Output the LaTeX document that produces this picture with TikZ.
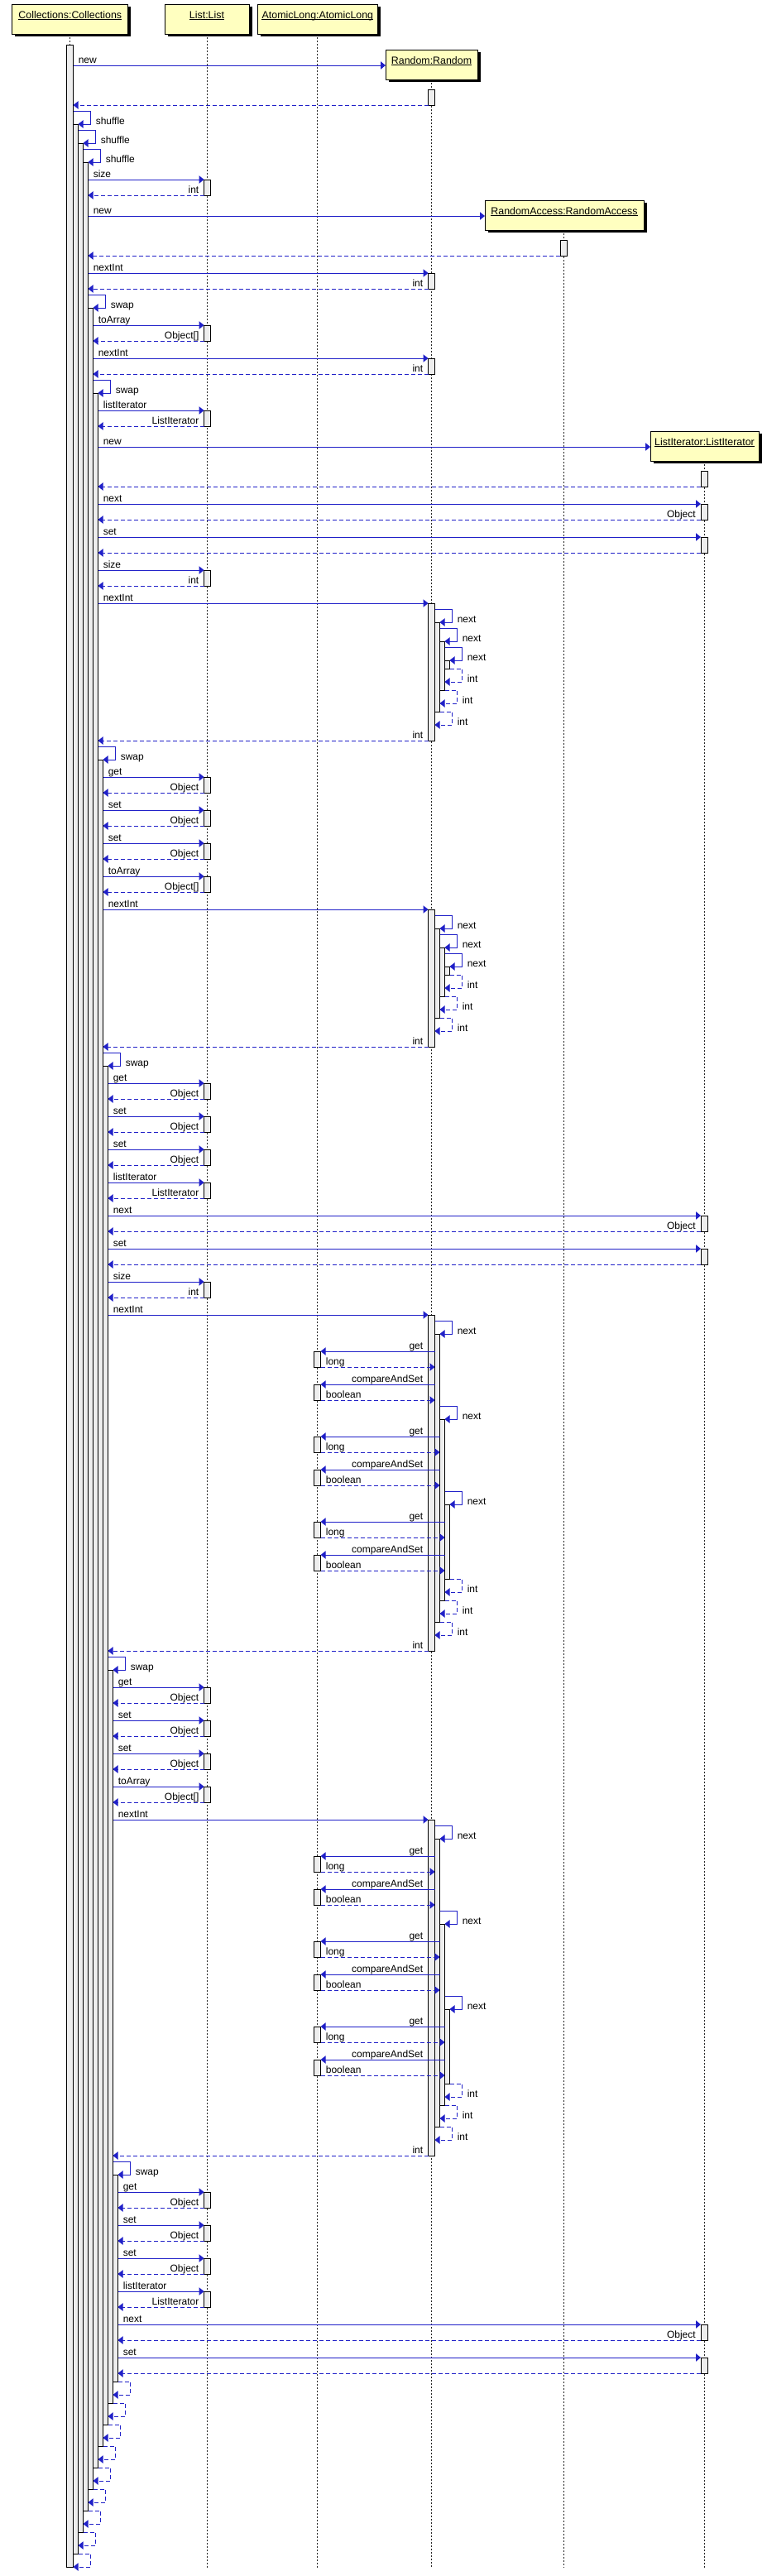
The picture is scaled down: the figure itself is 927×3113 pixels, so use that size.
\documentclass[tikz,border=0pt]{standalone}
\usepackage{fontspec}
\setmainfont{Liberation Sans}
\usetikzlibrary{arrows.meta}
\definecolor{msgblue}{RGB}{32,32,200}
\definecolor{barfill}{RGB}{238,238,238}
\definecolor{hdrfill}{RGB}{255,255,192}
\tikzset{
  msg/.style={draw=msgblue,line width=0.75pt,-{Triangle[length=4.5pt,width=7pt]}},
  ret/.style={msg,dash pattern=on 3.75pt off 2.25pt},
  lbl/.style={font=\fontsize{9pt}{10pt}\selectfont,inner sep=0pt,text=black},
  hlbl/.style={font=\fontsize{9.3pt}{10pt}\selectfont,inner sep=0pt,text=black},
  actbox/.style={draw=black,fill=barfill,line width=0.75pt},
  lifeline/.style={draw=black!85,line width=0.6pt,dash pattern=on 1.5pt off 1.5pt},
  hdrbox/.style={draw=black,fill=hdrfill,line width=0.75pt}
}
\newcommand\hdr[5]{%
  \fill[black] (#2+3.5,#4+3) rectangle (#3+3.5,#4+39);
  \draw[hdrbox] (#2,#4) rectangle (#3,#4+36);
  \node[hlbl,anchor=base] (#1) at ({(#2+#3)/2},#4+17) {#5};
  \draw[line width=0.75pt] ([yshift=-1.2pt]#1.base west) -- ([yshift=-1.2pt]#1.base east);
}
\newcommand\actbar[4]{\draw[actbox] (#1,#3) rectangle (#2,#4);}
\newcommand\sync[6]{%
  \actbar{#3}{#4}{#1}{#1+19}
  \draw[msg] (#2,#1) -- (#3,#1);
  \node[lbl,anchor=base west] at (#2+6,#1-3) {#5};
  \draw[ret] (#3,#1+19) -- (#2,#1+19);
  \node[lbl,anchor=base east] at (#3-6,#1+16) {#6};
}
\newcommand\selfcall[4]{%
  \draw[msg] (#2,#1) -- (#3+15,#1) -- (#3+15,#1+16) -- (#3,#1+16);
  \node[lbl,anchor=base west] at (#3+21,#1+16) {#4};
}
\newcommand\selfret[4]{%
  \draw[ret] (#2,#1) -- (#2+15,#1) -- (#2+15,#1+16) -- (#3,#1+16);
  \node[lbl,anchor=base west] at (#2+21,#1+16) {#4};
}
\newcommand\acall[4]{%
  \actbar{379.6}{387.6}{#1}{#1+19}
  \draw[msg] (#2,#1) -- (387.6,#1);
  \node[lbl,anchor=base east] at (511.5,#1-3) {#3};
  \draw[ret] (387.6,#1+19) -- (#2,#1+19);
  \node[lbl,anchor=base west] at (393.6,#1+16) {#4};
}
\newcommand\lst[4]{\sync{#1}{#2}{246.6}{254.6}{#3}{#4}}
\newcommand\lit[4]{\sync{#1}{#2}{847}{855}{#3}{#4}}
\newcommand\rnd[2]{\sync{#1}{#2}{517.5}{525.5}{nextInt}{int}}
\newcommand\blockA[2]{%
  \actbar{517.5}{525.5}{#1}{#1+166}
  \actbar{525.5}{531.5}{#1+23}{#1+131}
  \actbar{531.5}{537.5}{#1+46}{#1+105}
  \actbar{537.5}{543.5}{#1+69}{#1+79}
  \draw[msg] (#2,#1) -- (517.5,#1);
  \node[lbl,anchor=base west] at (#2+6,#1-3) {nextInt};
  \selfcall{#1+7}{525.5}{531.5}{next}
  \selfcall{#1+30}{531.5}{537.5}{next}
  \selfcall{#1+53}{537.5}{543.5}{next}
  \selfret{#1+79}{543.5}{537.5}{int}
  \selfret{#1+105}{537.5}{531.5}{int}
  \selfret{#1+131}{531.5}{525.5}{int}
  \draw[ret] (517.5,#1+166) -- (#2,#1+166);
  \node[lbl,anchor=base east] at (511.5,#1+163) {int};
}
\newcommand\blockB[2]{%
  \actbar{517.5}{525.5}{#1}{#1+406}
  \actbar{525.5}{531.5}{#1+23}{#1+371}
  \actbar{531.5}{537.5}{#1+126}{#1+345}
  \actbar{537.5}{543.5}{#1+229}{#1+319}
  \draw[msg] (#2,#1) -- (517.5,#1);
  \node[lbl,anchor=base west] at (#2+6,#1-3) {nextInt};
  \selfcall{#1+7}{525.5}{531.5}{next}
  \acall{#1+44}{525.5}{get}{long}
  \acall{#1+84}{525.5}{compareAndSet}{boolean}
  \selfcall{#1+110}{531.5}{537.5}{next}
  \acall{#1+147}{531.5}{get}{long}
  \acall{#1+187}{531.5}{compareAndSet}{boolean}
  \selfcall{#1+213}{537.5}{543.5}{next}
  \acall{#1+250}{537.5}{get}{long}
  \acall{#1+290}{537.5}{compareAndSet}{boolean}
  \selfret{#1+319}{543.5}{537.5}{int}
  \selfret{#1+345}{537.5}{531.5}{int}
  \selfret{#1+371}{531.5}{525.5}{int}
  \draw[ret] (517.5,#1+406) -- (#2,#1+406);
  \node[lbl,anchor=base east] at (511.5,#1+403) {int};
}
\begin{document}
\begin{tikzpicture}[x=0.75pt,y=-0.75pt]
\fill[white] (0,0) rectangle (927,3113);
\useasboundingbox (0,0) rectangle (927,3113);
% lifelines
\draw[lifeline] (84.5,41) -- (84.5,3103);
\draw[lifeline] (250.6,41) -- (250.6,3103);
\draw[lifeline] (383.6,41) -- (383.6,3103);
\draw[lifeline] (521.5,96) -- (521.5,3103);
\draw[lifeline] (681.4,278) -- (681.4,3103);
\draw[lifeline] (851,557) -- (851,3103);
% headers
\hdr{hc}{14.8}{154.8}{5}{Collections:Collections}
\hdr{hl}{199}{301}{5}{List:List}
\hdr{ha}{311.5}{456.3}{5}{AtomicLong:AtomicLong}
\hdr{hr}{466}{577}{60}{Random:Random}
\hdr{hra}{586}{778}{242}{RandomAccess:RandomAccess}
\hdr{hli}{786}{917}{521}{ListIterator:ListIterator}
% Collections activation bars
\actbar{80.5}{88.5}{54}{3102}
\actbar{88.5}{94.5}{150}{3086}
\actbar{94.5}{100.5}{173}{3060}
\actbar{100.5}{106.5}{196}{3034}
\actbar{106.5}{112.5}{372}{3008}
\actbar{112.5}{118.5}{475}{2982}
\actbar{118.5}{124.5}{918}{2956}
\actbar{124.5}{130.5}{1288}{2930}
\actbar{130.5}{136.5}{2018}{2904}
\actbar{136.5}{142.5}{2628}{2878}
% new Random
\draw[msg] (88.5,79) -- (466,79);
\node[lbl,anchor=base west] at (94.5,76) {new};
\actbar{517.5}{525.5}{108}{127}
\draw[ret] (517.5,127) -- (88.5,127);
\selfcall{134}{88.5}{94.5}{shuffle}
\selfcall{157}{94.5}{100.5}{shuffle}
\selfcall{180}{100.5}{106.5}{shuffle}
\lst{217}{106.5}{size}{int}
% new RandomAccess
\draw[msg] (106.5,261) -- (586,261);
\node[lbl,anchor=base west] at (112.5,258) {new};
\actbar{677.4}{685.4}{290}{309}
\draw[ret] (677.4,309) -- (106.5,309);
\rnd{330}{106.5}
\selfcall{356}{106.5}{112.5}{swap}
\lst{393}{112.5}{toArray}{Object[]}
\rnd{433}{112.5}
\selfcall{459}{112.5}{118.5}{swap}
\lst{496}{118.5}{listIterator}{ListIterator}
% new ListIterator
\draw[msg] (118.5,540) -- (786,540);
\node[lbl,anchor=base west] at (124.5,537) {new};
\actbar{847}{855}{569}{588}
\draw[ret] (847,588) -- (118.5,588);
\lit{609}{118.5}{next}{Object}
\lit{649}{118.5}{set}{}
\lst{689}{118.5}{size}{int}
\blockA{729}{118.5}
\selfcall{902}{118.5}{124.5}{swap}
\lst{939}{124.5}{get}{Object}
\lst{979}{124.5}{set}{Object}
\lst{1019}{124.5}{set}{Object}
\lst{1059}{124.5}{toArray}{Object[]}
\blockA{1099}{124.5}
\selfcall{1272}{124.5}{130.5}{swap}
\lst{1309}{130.5}{get}{Object}
\lst{1349}{130.5}{set}{Object}
\lst{1389}{130.5}{set}{Object}
\lst{1429}{130.5}{listIterator}{ListIterator}
\lit{1469}{130.5}{next}{Object}
\lit{1509}{130.5}{set}{}
\lst{1549}{130.5}{size}{int}
\blockB{1589}{130.5}
\selfcall{2002}{130.5}{136.5}{swap}
\lst{2039}{136.5}{get}{Object}
\lst{2079}{136.5}{set}{Object}
\lst{2119}{136.5}{set}{Object}
\lst{2159}{136.5}{toArray}{Object[]}
\blockB{2199}{136.5}
\selfcall{2612}{136.5}{142.5}{swap}
\lst{2649}{142.5}{get}{Object}
\lst{2689}{142.5}{set}{Object}
\lst{2729}{142.5}{set}{Object}
\lst{2769}{142.5}{listIterator}{ListIterator}
\lit{2809}{142.5}{next}{Object}
\lit{2849}{142.5}{set}{}
% final returns
\selfret{2878}{142.5}{136.5}{}
\selfret{2904}{136.5}{130.5}{}
\selfret{2930}{130.5}{124.5}{}
\selfret{2956}{124.5}{118.5}{}
\selfret{2982}{118.5}{112.5}{}
\selfret{3008}{112.5}{106.5}{}
\selfret{3034}{106.5}{100.5}{}
\selfret{3060}{100.5}{94.5}{}
\selfret{3086}{94.5}{88.5}{}
\end{tikzpicture}
\end{document}
